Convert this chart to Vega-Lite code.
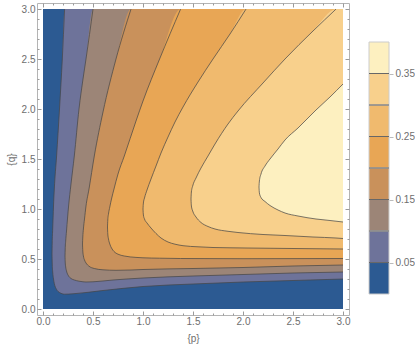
{
  "$schema": "https://vega.github.io/schema/vega-lite/v6.json",
  "padding": {"left": 5, "top": 2, "right": 0, "bottom": 0},
  "config": {
    "view": {"stroke": null},
    "axis": {"grid": false, "domain": false, "labelFont": "Liberation Sans", "titleFont": "Liberation Sans", "labelColor": "#6e6e6e", "titleColor": "#6e6e6e", "labelFontSize": 10, "titleFontSize": 10, "titleFontWeight": "normal", "tickColor": "#9a9a9a"}
  },
  "datasets": {
    "bands": [
      {"lev": 0, "p": 0, "lo": 0, "hi": 3}, {"lev": 0, "p": 3, "lo": 0, "hi": 3},
      {"lev": 1, "p": 0.09, "lo": 0.55, "hi": 0.55}, {"lev": 1, "p": 0.092, "lo": 0.46, "hi": 0.66}, {"lev": 1, "p": 0.097, "lo": 0.37, "hi": 0.8}, {"lev": 1, "p": 0.105, "lo": 0.30, "hi": 1.03}, {"lev": 1, "p": 0.113, "lo": 0.255, "hi": 1.2}, {"lev": 1, "p": 0.136, "lo": 0.195, "hi": 1.53}, {"lev": 1, "p": 0.165, "lo": 0.165, "hi": 2.0}, {"lev": 1, "p": 0.193, "lo": 0.152, "hi": 2.5}, {"lev": 1, "p": 0.216, "lo": 0.148, "hi": 2.999}, {"lev": 1, "p": 0.3, "lo": 0.152, "hi": 3}, {"lev": 1, "p": 0.6, "lo": 0.185, "hi": 3}, {"lev": 1, "p": 1.0, "lo": 0.225, "hi": 3}, {"lev": 1, "p": 1.5, "lo": 0.25, "hi": 3}, {"lev": 1, "p": 2.0, "lo": 0.27, "hi": 3}, {"lev": 1, "p": 2.5, "lo": 0.285, "hi": 3}, {"lev": 1, "p": 3.0, "lo": 0.30, "hi": 3},
      {"lev": 2, "p": 0.22, "lo": 0.53, "hi": 0.53}, {"lev": 2, "p": 0.222, "lo": 0.47, "hi": 0.6}, {"lev": 2, "p": 0.227, "lo": 0.42, "hi": 0.68}, {"lev": 2, "p": 0.235, "lo": 0.38, "hi": 0.78}, {"lev": 2, "p": 0.256, "lo": 0.33, "hi": 1.03}, {"lev": 2, "p": 0.28, "lo": 0.305, "hi": 1.25}, {"lev": 2, "p": 0.313, "lo": 0.29, "hi": 1.53}, {"lev": 2, "p": 0.36, "lo": 0.278, "hi": 2.0}, {"lev": 2, "p": 0.40, "lo": 0.272, "hi": 2.3}, {"lev": 2, "p": 0.43, "lo": 0.27, "hi": 2.5}, {"lev": 2, "p": 0.50, "lo": 0.272, "hi": 2.999}, {"lev": 2, "p": 0.7, "lo": 0.29, "hi": 3}, {"lev": 2, "p": 1.0, "lo": 0.31, "hi": 3}, {"lev": 2, "p": 1.5, "lo": 0.33, "hi": 3}, {"lev": 2, "p": 2.0, "lo": 0.345, "hi": 3}, {"lev": 2, "p": 2.5, "lo": 0.36, "hi": 3}, {"lev": 2, "p": 3.0, "lo": 0.37, "hi": 3},
      {"lev": 3, "p": 0.395, "lo": 0.65, "hi": 0.65}, {"lev": 3, "p": 0.398, "lo": 0.58, "hi": 0.72}, {"lev": 3, "p": 0.404, "lo": 0.53, "hi": 0.8}, {"lev": 3, "p": 0.415, "lo": 0.49, "hi": 0.9}, {"lev": 3, "p": 0.43, "lo": 0.46, "hi": 1.03}, {"lev": 3, "p": 0.46, "lo": 0.428, "hi": 1.2}, {"lev": 3, "p": 0.513, "lo": 0.405, "hi": 1.53}, {"lev": 3, "p": 0.60, "lo": 0.392, "hi": 1.97}, {"lev": 3, "p": 0.73, "lo": 0.387, "hi": 2.5}, {"lev": 3, "p": 0.88, "lo": 0.39, "hi": 2.999}, {"lev": 3, "p": 1.0, "lo": 0.395, "hi": 3}, {"lev": 3, "p": 1.5, "lo": 0.405, "hi": 3}, {"lev": 3, "p": 2.0, "lo": 0.415, "hi": 3}, {"lev": 3, "p": 2.5, "lo": 0.43, "hi": 3}, {"lev": 3, "p": 3.0, "lo": 0.44, "hi": 3},
      {"lev": 4, "p": 0.645, "lo": 0.82, "hi": 0.82}, {"lev": 4, "p": 0.648, "lo": 0.75, "hi": 0.89}, {"lev": 4, "p": 0.655, "lo": 0.70, "hi": 0.95}, {"lev": 4, "p": 0.668, "lo": 0.65, "hi": 1.02}, {"lev": 4, "p": 0.685, "lo": 0.61, "hi": 1.1}, {"lev": 4, "p": 0.71, "lo": 0.575, "hi": 1.2}, {"lev": 4, "p": 0.75, "lo": 0.548, "hi": 1.35}, {"lev": 4, "p": 0.813, "lo": 0.53, "hi": 1.53}, {"lev": 4, "p": 0.93, "lo": 0.516, "hi": 1.88}, {"lev": 4, "p": 1.0, "lo": 0.512, "hi": 2.08}, {"lev": 4, "p": 1.166, "lo": 0.508, "hi": 2.5}, {"lev": 4, "p": 1.376, "lo": 0.505, "hi": 2.999}, {"lev": 4, "p": 2.0, "lo": 0.503, "hi": 3}, {"lev": 4, "p": 3.0, "lo": 0.505, "hi": 3},
      {"lev": 5, "p": 1.0, "lo": 1.0, "hi": 1.0}, {"lev": 5, "p": 1.004, "lo": 0.94, "hi": 1.06}, {"lev": 5, "p": 1.015, "lo": 0.9, "hi": 1.11}, {"lev": 5, "p": 1.04, "lo": 0.86, "hi": 1.19}, {"lev": 5, "p": 1.08, "lo": 0.81, "hi": 1.3}, {"lev": 5, "p": 1.13, "lo": 0.755, "hi": 1.43}, {"lev": 5, "p": 1.18, "lo": 0.71, "hi": 1.56}, {"lev": 5, "p": 1.25, "lo": 0.67, "hi": 1.72}, {"lev": 5, "p": 1.32, "lo": 0.648, "hi": 1.87}, {"lev": 5, "p": 1.4, "lo": 0.633, "hi": 2.02}, {"lev": 5, "p": 1.55, "lo": 0.622, "hi": 2.27}, {"lev": 5, "p": 1.7, "lo": 0.615, "hi": 2.5}, {"lev": 5, "p": 1.87, "lo": 0.612, "hi": 2.75}, {"lev": 5, "p": 2.03, "lo": 0.61, "hi": 2.999}, {"lev": 5, "p": 2.5, "lo": 0.605, "hi": 3}, {"lev": 5, "p": 3.0, "lo": 0.60, "hi": 3},
      {"lev": 6, "p": 1.48, "lo": 1.10, "hi": 1.10}, {"lev": 6, "p": 1.484, "lo": 1.03, "hi": 1.17}, {"lev": 6, "p": 1.497, "lo": 0.98, "hi": 1.23}, {"lev": 6, "p": 1.53, "lo": 0.92, "hi": 1.31}, {"lev": 6, "p": 1.58, "lo": 0.865, "hi": 1.41}, {"lev": 6, "p": 1.65, "lo": 0.825, "hi": 1.53}, {"lev": 6, "p": 1.72, "lo": 0.80, "hi": 1.65}, {"lev": 6, "p": 1.85, "lo": 0.777, "hi": 1.85}, {"lev": 6, "p": 1.95, "lo": 0.765, "hi": 1.98}, {"lev": 6, "p": 2.2, "lo": 0.745, "hi": 2.26}, {"lev": 6, "p": 2.42, "lo": 0.735, "hi": 2.5}, {"lev": 6, "p": 2.7, "lo": 0.72, "hi": 2.78}, {"lev": 6, "p": 2.93, "lo": 0.71, "hi": 2.999}, {"lev": 6, "p": 3.0, "lo": 0.705, "hi": 3},
      {"lev": 7, "p": 2.16, "lo": 1.22, "hi": 1.22}, {"lev": 7, "p": 2.164, "lo": 1.16, "hi": 1.28}, {"lev": 7, "p": 2.18, "lo": 1.115, "hi": 1.35}, {"lev": 7, "p": 2.22, "lo": 1.075, "hi": 1.43}, {"lev": 7, "p": 2.27, "lo": 1.035, "hi": 1.5}, {"lev": 7, "p": 2.35, "lo": 0.99, "hi": 1.6}, {"lev": 7, "p": 2.42, "lo": 0.96, "hi": 1.69}, {"lev": 7, "p": 2.55, "lo": 0.93, "hi": 1.81}, {"lev": 7, "p": 2.73, "lo": 0.90, "hi": 1.99}, {"lev": 7, "p": 2.87, "lo": 0.885, "hi": 2.12}, {"lev": 7, "p": 3.0, "lo": 0.87, "hi": 2.25}
    ],
    "key": [
      {"band": 0, "lo": 0.0, "hi": 0.05}, {"band": 1, "lo": 0.05, "hi": 0.10}, {"band": 2, "lo": 0.10, "hi": 0.15}, {"band": 3, "lo": 0.15, "hi": 0.20},
      {"band": 4, "lo": 0.20, "hi": 0.25}, {"band": 5, "lo": 0.25, "hi": 0.30}, {"band": 6, "lo": 0.30, "hi": 0.35}, {"band": 7, "lo": 0.35, "hi": 0.40}
    ]
  },
  "spacing": 17,
  "hconcat": [
    {
      "width": 312,
      "height": 312,
      "view": {"stroke": "#b4b4b4", "strokeWidth": 1},
      "data": {"name": "bands"},
      "resolve": {"axis": {"x": "independent", "y": "independent"}},
      "layer": [
        {
          "transform": [{"filter": "datum.lev == 0"}],
          "mark": {"type": "area", "color": "#2c5a92", "orient": "vertical"},
          "encoding": {
            "x": {"field": "p", "type": "quantitative", "scale": {"domain": [-0.06, 3.06], "nice": false, "zero": false},
                  "axis": {"orient": "top", "labels": false, "title": null, "values": [0,0.1,0.2,0.3,0.4,0.5,0.6,0.7,0.8,0.9,1,1.1,1.2,1.3,1.4,1.5,1.6,1.7,1.8,1.9,2,2.1,2.2,2.3,2.4,2.5,2.6,2.7,2.8,2.9,3],
                           "tickSize": {"condition": {"test": "abs(datum.value*2 - round(datum.value*2)) < 0.01", "value": -4}, "value": -2}}},
            "y": {"field": "lo", "type": "quantitative", "scale": {"domain": [-0.06, 3.06], "nice": false, "zero": false},
                  "axis": {"orient": "right", "labels": false, "title": null, "values": [0,0.1,0.2,0.3,0.4,0.5,0.6,0.7,0.8,0.9,1,1.1,1.2,1.3,1.4,1.5,1.6,1.7,1.8,1.9,2,2.1,2.2,2.3,2.4,2.5,2.6,2.7,2.8,2.9,3],
                           "tickSize": {"condition": {"test": "abs(datum.value*2 - round(datum.value*2)) < 0.01", "value": -4}, "value": -2}}},
            "y2": {"field": "hi"}
          }
        },
        {
          "transform": [{"filter": "datum.lev == 1"}],
          "mark": {"type": "area", "color": "#6e739a", "orient": "vertical", "interpolate": "monotone"},
          "encoding": {
            "x": {"field": "p", "type": "quantitative", "scale": {"domain": [-0.06, 3.06], "nice": false, "zero": false}, "axis": null},
            "y": {"field": "lo", "type": "quantitative", "scale": {"domain": [-0.06, 3.06], "nice": false, "zero": false}, "axis": null},
            "y2": {"field": "hi"}
          }
        },
        {
          "transform": [{"filter": "datum.lev == 2"}],
          "mark": {"type": "area", "color": "#9c8577", "orient": "vertical", "interpolate": "monotone"},
          "encoding": {
            "x": {"field": "p", "type": "quantitative", "scale": {"domain": [-0.06, 3.06], "nice": false, "zero": false}, "axis": null},
            "y": {"field": "lo", "type": "quantitative", "scale": {"domain": [-0.06, 3.06], "nice": false, "zero": false}, "axis": null},
            "y2": {"field": "hi"}
          }
        },
        {
          "transform": [{"filter": "datum.lev == 3"}],
          "mark": {"type": "area", "color": "#c9915b", "orient": "vertical", "interpolate": "monotone"},
          "encoding": {
            "x": {"field": "p", "type": "quantitative", "scale": {"domain": [-0.06, 3.06], "nice": false, "zero": false}, "axis": null},
            "y": {"field": "lo", "type": "quantitative", "scale": {"domain": [-0.06, 3.06], "nice": false, "zero": false}, "axis": null},
            "y2": {"field": "hi"}
          }
        },
        {
          "transform": [{"filter": "datum.lev == 4"}],
          "mark": {"type": "area", "color": "#e8a655", "orient": "vertical", "interpolate": "monotone"},
          "encoding": {
            "x": {"field": "p", "type": "quantitative", "scale": {"domain": [-0.06, 3.06], "nice": false, "zero": false}, "axis": null},
            "y": {"field": "lo", "type": "quantitative", "scale": {"domain": [-0.06, 3.06], "nice": false, "zero": false}, "axis": null},
            "y2": {"field": "hi"}
          }
        },
        {
          "transform": [{"filter": "datum.lev == 5"}],
          "mark": {"type": "area", "color": "#f0ba6e", "orient": "vertical", "interpolate": "monotone"},
          "encoding": {
            "x": {"field": "p", "type": "quantitative", "scale": {"domain": [-0.06, 3.06], "nice": false, "zero": false}, "axis": null},
            "y": {"field": "lo", "type": "quantitative", "scale": {"domain": [-0.06, 3.06], "nice": false, "zero": false}, "axis": null},
            "y2": {"field": "hi"}
          }
        },
        {
          "transform": [{"filter": "datum.lev == 6"}],
          "mark": {"type": "area", "color": "#f8d08c", "orient": "vertical", "interpolate": "monotone"},
          "encoding": {
            "x": {"field": "p", "type": "quantitative", "scale": {"domain": [-0.06, 3.06], "nice": false, "zero": false}, "axis": null},
            "y": {"field": "lo", "type": "quantitative", "scale": {"domain": [-0.06, 3.06], "nice": false, "zero": false}, "axis": null},
            "y2": {"field": "hi"}
          }
        },
        {
          "transform": [{"filter": "datum.lev == 7"}],
          "mark": {"type": "area", "color": "#fdf0c0", "orient": "vertical", "interpolate": "monotone"},
          "encoding": {
            "x": {"field": "p", "type": "quantitative", "scale": {"domain": [-0.06, 3.06], "nice": false, "zero": false}, "axis": null},
            "y": {"field": "lo", "type": "quantitative", "scale": {"domain": [-0.06, 3.06], "nice": false, "zero": false}, "axis": null},
            "y2": {"field": "hi"}
          }
        },
        {
          "transform": [
            {"filter": "datum.lev > 0"},
            {"fold": ["lo", "hi"], "as": ["br", "q"]},
            {"filter": "datum.q < 2.9995"}
          ],
          "mark": {"type": "line", "color": "#454545", "strokeWidth": 0.9, "opacity": 0.8, "interpolate": "monotone"},
          "encoding": {
            "x": {"field": "p", "type": "quantitative", "scale": {"domain": [-0.06, 3.06], "nice": false, "zero": false},
                  "axis": {"orient": "bottom", "title": "{p}", "format": ".1f", "values": [0,0.1,0.2,0.3,0.4,0.5,0.6,0.7,0.8,0.9,1,1.1,1.2,1.3,1.4,1.5,1.6,1.7,1.8,1.9,2,2.1,2.2,2.3,2.4,2.5,2.6,2.7,2.8,2.9,3],
                           "labelExpr": "abs(datum.value*2 - round(datum.value*2)) < 0.01 ? format(datum.value, '.1f') : ''",
                           "labelOverlap": false, "labelFlush": false, "labelPadding": 5, "titlePadding": 5,
                           "tickSize": {"condition": {"test": "abs(datum.value*2 - round(datum.value*2)) < 0.01", "value": -4}, "value": -2}}},
            "y": {"field": "q", "type": "quantitative", "scale": {"domain": [-0.06, 3.06], "nice": false, "zero": false},
                  "axis": {"orient": "left", "title": "{q}", "format": ".1f", "values": [0,0.1,0.2,0.3,0.4,0.5,0.6,0.7,0.8,0.9,1,1.1,1.2,1.3,1.4,1.5,1.6,1.7,1.8,1.9,2,2.1,2.2,2.3,2.4,2.5,2.6,2.7,2.8,2.9,3],
                           "labelExpr": "abs(datum.value*2 - round(datum.value*2)) < 0.01 ? format(datum.value, '.1f') : ''",
                           "labelOverlap": false, "labelFlush": false, "labelPadding": 6, "titlePadding": 5,
                           "tickSize": {"condition": {"test": "abs(datum.value*2 - round(datum.value*2)) < 0.01", "value": -4}, "value": -2}}},
            "detail": [{"field": "lev", "type": "nominal"}, {"field": "br", "type": "nominal"}]
          }
        }
      ]
    },
    {
      "width": 20,
      "height": 312,
      "data": {"name": "key"},
      "layer": [
        {
          "mark": {"type": "rect"},
          "encoding": {
            "y": {"field": "lo", "type": "quantitative", "scale": {"domain": [-0.0333, 0.4619], "nice": false, "zero": false},
                  "axis": {"orient": "right", "values": [0.05, 0.15, 0.25, 0.35], "format": ".2f", "title": null, "tickSize": 4, "labelPadding": 2, "tickColor": "#bbbbbb"}},
            "y2": {"field": "hi"},
            "color": {"field": "band", "type": "ordinal", "legend": null,
                      "scale": {"domain": [0,1,2,3,4,5,6,7], "range": ["#2c5a92", "#6e739a", "#9c8577", "#c9915b", "#e8a655", "#f0ba6e", "#f8d08c", "#fdf0c0"]}}
          }
        },
        {
          "mark": {"type": "rect", "fillOpacity": 0, "stroke": "#cccccc", "strokeWidth": 1},
          "encoding": {
            "y": {"field": "lo", "type": "quantitative"},
            "y2": {"field": "hi"}
          }
        },
        {
          "transform": [{"filter": "datum.lo > 0"}],
          "mark": {"type": "rule", "color": "#454545", "opacity": 0.75},
          "encoding": {
            "y": {"field": "lo", "type": "quantitative"}
          }
        }
      ]
    }
  ]
}
